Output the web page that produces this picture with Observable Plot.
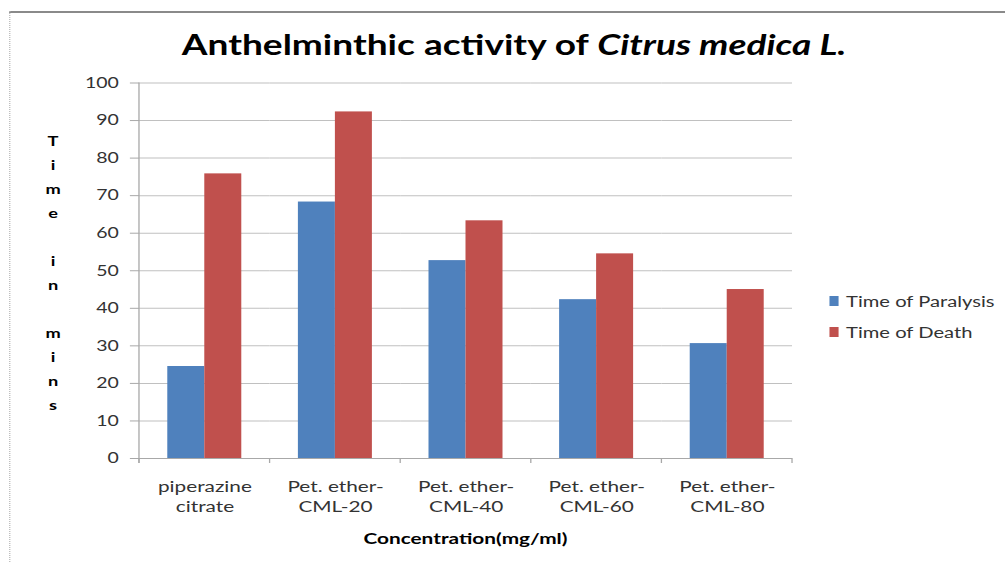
<!DOCTYPE html>
<html>
<head>
<meta charset="utf-8">
<script src="https://cdn.jsdelivr.net/npm/d3@7"></script>
<script src="https://cdn.jsdelivr.net/npm/@observablehq/plot@0.6"></script>
<style>
html, body { margin: 0; padding: 0; background: #fff; overflow: hidden; }
#page { position: relative; width: 1005px; height: 562px; overflow: hidden; background: #fff; }
#wrap { position: absolute; left: 0; top: 0; width: 773px; height: 562px;
        transform: scaleX(1.3001); transform-origin: 0 0;
        font-family: Lato, "Open Sans", sans-serif; color: #000; }
#wrap svg { position: absolute; left: 0; top: 0; }
.abs { position: absolute; }
#topline { left: 6.9px; top: 11px; width: 767px; height: 0; border-top: 2px solid #8a8a8a; }
#leftline { left: 6.9px; top: 11px; width: 0; height: 551px; border-left: 1.5px dotted #b8b8b8; }
#title { left: 95.4px; width: 600px; top: 27px; line-height: 34px; text-align: center;
         font-size: 28.5px; font-weight: bold; white-space: nowrap; }
#ylab { left: 30.8px; width: 20px; top: 129px; line-height: 24px; text-align: center;
        font-size: 14px; font-weight: bold; white-space: pre; }
#xlab { left: 208px; width: 300px; top: 527px; line-height: 22px; text-align: center;
        font-size: 16px; font-weight: bold; white-space: nowrap; }
.sw { width: 7.7px; height: 10px; }
.lt { font-size: 15.5px; line-height: 20px; color: #333; white-space: nowrap; }
</style>
</head>
<body>
<div id="page">
  <div id="wrap">
    <div id="topline" class="abs"></div>
    <div id="leftline" class="abs"></div>
    <div id="title" class="abs">Anthelminthic activity of <i>Citrus medica L.</i></div>
    <div id="ylab" class="abs">T
i
m
e

i
n

m
i
n
s</div>
    <div id="xlab" class="abs">Concentration(mg/ml)</div>
    <div id="legend"></div>
  </div>
</div>
<script>
// ---- data ----
const categories = ["piperazine citrate", "Pet. ether-CML-20", "Pet. ether-CML-40", "Pet. ether-CML-60", "Pet. ether-CML-80"];
const tickLabels = ["piperazine\ncitrate", "Pet. ether-\nCML-20", "Pet. ether-\nCML-40", "Pet. ether-\nCML-60", "Pet. ether-\nCML-80"];
const seriesNames = ["Time of Paralysis", "Time of Death"];
const paralysis = [24.5, 68.3, 52.7, 42.3, 30.6];
const death = [75.8, 92.3, 63.3, 54.5, 45.0];
const yTicks = [0, 10, 20, 30, 40, 50, 60, 70, 80, 90, 100];
const colors = ["#4F81BD", "#C0504D"];

const rows = [];
categories.forEach((c, i) => {
  rows.push({category: c, series: seriesNames[0], value: paralysis[i]});
  rows.push({category: c, series: seriesNames[1], value: death[i]});
});

const W = 773, H = 562;
const chart = Plot.plot({
  width: W, height: H,
  marginTop: 82.5, marginBottom: 104, marginLeft: 106.9, marginRight: 163.8,
  style: {fontFamily: "Lato, 'Open Sans', sans-serif", fontSize: "15px", color: "#333", background: "transparent", overflow: "visible"},
  fx: {domain: categories, padding: 0, round: false, label: null},
  x: {domain: seriesNames, paddingInner: 0, paddingOuter: 0.765, round: false, axis: null},
  y: {domain: [0, 100], label: null},
  color: {domain: seriesNames, range: colors},
  marks: [
    Plot.gridY(yTicks, {stroke: "#c0c0c0", strokeOpacity: 1}),
    Plot.barY(rows, {fx: "category", x: "series", y: "value", fill: "series"}),
    Plot.ruleY([0], {stroke: "#a8a8a8"}),
    Plot.axisY(yTicks, {tickSize: 7, tickPadding: 9, stroke: "#a8a8a8", fill: "#333", fontSize: 15, label: null}),
    Plot.axisFx({anchor: "bottom", tickSize: 0, tickPadding: 19.5, fontSize: 16, fill: "#333", lineHeight: 1.25,
                 label: null, tickFormat: d => tickLabels[categories.indexOf(d)]})
  ]
});
document.getElementById("wrap").appendChild(chart);

// axis line and category boundary ticks, from the plot's own scales
try {
  const fx = chart.scale("fx"), y = chart.scale("y");
  const g = d3.select(chart).append("g").attr("stroke", "#a8a8a8").attr("stroke-width", 1);
  const x0 = fx.apply(categories[0]);
  g.append("line").attr("x1", x0).attr("x2", x0).attr("y1", y.apply(100)).attr("y2", y.apply(0) + 5);
  const bounds = categories.map(c => fx.apply(c));
  bounds.push(fx.apply(categories[categories.length - 1]) + fx.bandwidth);
  bounds.forEach(b => g.append("line").attr("x1", b).attr("x2", b).attr("y1", y.apply(0)).attr("y2", y.apply(0) + 5));
} catch (e) { console.error(e); }

// legend
const legend = document.getElementById("legend");
const legendTops = [291, 322];
seriesNames.forEach((s, i) => {
  const sw = document.createElement("div");
  sw.className = "abs sw";
  sw.style.left = "637.7px";
  sw.style.top = (legendTops[i] + 5) + "px";
  sw.style.background = colors[i];
  legend.appendChild(sw);
  const t = document.createElement("div");
  t.className = "abs lt";
  t.style.left = "650.8px";
  t.style.top = legendTops[i] + "px";
  t.textContent = s;
  legend.appendChild(t);
});
</script>
</body>
</html>
